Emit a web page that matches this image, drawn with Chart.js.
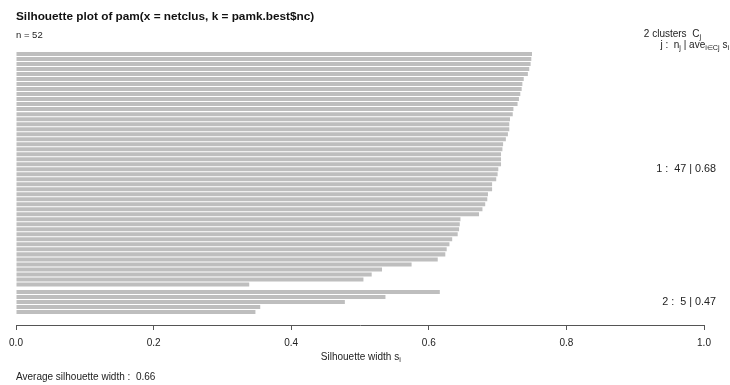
<!DOCTYPE html>
<html>
<head>
<meta charset="utf-8">
<script src="https://cdn.jsdelivr.net/npm/chart.js@4/dist/chart.umd.min.js"></script>
<style>
  html, body { margin: 0; padding: 0; background: #ffffff; }
  #wrap { width: 730px; height: 385px; position: relative; }
</style>
</head>
<body>
<div id="wrap"><canvas id="sil" width="730" height="385"></canvas></div>
<script>
// Silhouette widths s(i) per observation, sorted within each cluster
const cluster1Widths = [
  0.750, 0.749, 0.748, 0.746, 0.744, 0.738, 0.736, 0.735, 0.733, 0.731,
  0.729, 0.723, 0.722, 0.718, 0.717, 0.717, 0.715, 0.712, 0.708, 0.707,
  0.705, 0.705, 0.705, 0.701, 0.700, 0.698, 0.692, 0.692, 0.686, 0.685,
  0.682, 0.678, 0.673, 0.646, 0.645, 0.644, 0.642, 0.634, 0.630, 0.626,
  0.624, 0.613, 0.575, 0.532, 0.517, 0.505, 0.339
];
const cluster2Widths = [0.616, 0.537, 0.478, 0.355, 0.348];
const clusterIds = [1, 2];
const xTickValues = [0, 0.2, 0.4, 0.6, 0.8, 1.0];

const titleText = 'Silhouette plot of pam(x = netclus, k = pamk.best$nc)';
const axisTitle = 'Silhouette width';
const FONT = '"Liberation Sans", Arial, sans-serif';

const clusters = [cluster1Widths, cluster2Widths];
const mean = a => a.reduce((s, v) => s + v, 0) / a.length;
const allWidths = clusters.flat();
const nTotal = allWidths.length;

// Bars are stacked top-down; half a bar slot separates consecutive clusters
const points = [];
const clusterSpans = [];
let slot = 0;
clusters.forEach((widths, ci) => {
  if (ci > 0) slot += 0.5;
  const first = slot;
  widths.forEach(w => { points.push({ x: w, y: slot }); slot += 1; });
  clusterSpans.push({ from: first, to: slot - 1 });
});
const lastSlot = slot - 1;
const pad = (lastSlot + 1) * 0.04;

// Draws a run of text pieces, some of them as subscripts
function drawRich(ctx, parts, x, y, size, align) {
  const subSize = size * 0.72;
  const widthOf = p => { ctx.font = (p.sub ? subSize : size) + 'px ' + FONT; return ctx.measureText(p.t).width; };
  const total = parts.reduce((s, p) => s + widthOf(p), 0);
  let cx = align === 'right' ? x - total : x;
  ctx.textAlign = 'left';
  ctx.textBaseline = 'middle';
  parts.forEach(p => {
    const w = widthOf(p);
    ctx.font = (p.sub ? subSize : size) + 'px ' + FONT;
    ctx.fillText(p.t, cx, p.sub ? y + size * 0.32 : y);
    cx += w;
  });
}

const annotations = {
  id: 'silAnnotations',
  afterDraw(chart) {
    const { ctx, chartArea, scales } = chart;
    ctx.save();
    ctx.fillStyle = '#111';
    ctx.textAlign = 'left';
    ctx.textBaseline = 'middle';
    ctx.font = 'bold 11.8px ' + FONT;
    ctx.fillText(titleText, chartArea.left, 17);

    ctx.fillStyle = '#222';
    ctx.font = '9.5px ' + FONT;
    ctx.fillText('n = ' + nTotal, chartArea.left, 35);

    drawRich(ctx, [{ t: clusters.length + ' clusters  C' }, { t: 'j', sub: true }], 701, 34, 10, 'right');
    drawRich(ctx, [
      { t: 'j :  n' }, { t: 'j', sub: true }, { t: ' | ave' }, { t: 'i\u2208Cj', sub: true },
      { t: ' s' }, { t: 'i', sub: true }
    ], 729, 45, 10, 'right');

    clusters.forEach((widths, ci) => {
      const span = clusterSpans[ci];
      const yMid = scales.y.getPixelForValue((span.from + span.to) / 2);
      const label = clusterIds[ci] + ' :  ' + widths.length + ' | ' + mean(widths).toFixed(2);
      drawRich(ctx, [{ t: label }], 716, yMid, 10.8, 'right');
    });

    const xMid = (chartArea.left + chartArea.right) / 2;
    ctx.font = '10px ' + FONT;
    const aw = ctx.measureText(axisTitle + ' s').width;
    drawRich(ctx, [{ t: axisTitle + ' s' }, { t: 'i', sub: true }], xMid - aw / 2, 357, 10, 'left');

    ctx.font = '10px ' + FONT;
    ctx.textAlign = 'left';
    ctx.fillText('Average silhouette width :  ' + mean(allWidths).toFixed(2), chartArea.left, 377);
    ctx.restore();
  }
};

new Chart(document.getElementById('sil'), {
  type: 'bar',
  data: {
    datasets: [{
      data: points,
      backgroundColor: '#bebebe',
      borderWidth: 0,
      barPercentage: 0.8,
      categoryPercentage: 1
    }]
  },
  options: {
    indexAxis: 'y',
    responsive: false,
    animation: false,
    devicePixelRatio: 1,
    layout: { padding: { top: 41, left: 16, right: 26, bottom: 29 } },
    plugins: { legend: { display: false }, tooltip: { enabled: false }, title: { display: false } },
    scales: {
      y: {
        type: 'linear',
        display: true,
        reverse: true,
        offset: false,
        min: -0.5 - pad,
        max: lastSlot + 0.5 + pad,
        ticks: { display: false },
        grid: { display: false, drawTicks: false, tickLength: 0 },
        border: { display: false }
      },
      x: {
        type: 'linear',
        min: 0,
        max: 1,
        afterBuildTicks: scale => { scale.ticks = xTickValues.map(v => ({ value: v })); },
        ticks: {
          callback: v => Number(v).toFixed(1),
          font: { family: FONT, size: 10 },
          color: '#222',
          padding: 7,
          maxRotation: 0,
          autoSkip: false
        },
        grid: { drawOnChartArea: false, drawTicks: true, tickLength: 5, color: '#555', lineWidth: 1 },
        border: { display: true, color: '#555', width: 1 }
      }
    }
  },
  plugins: [annotations]
});
</script>
</body>
</html>
